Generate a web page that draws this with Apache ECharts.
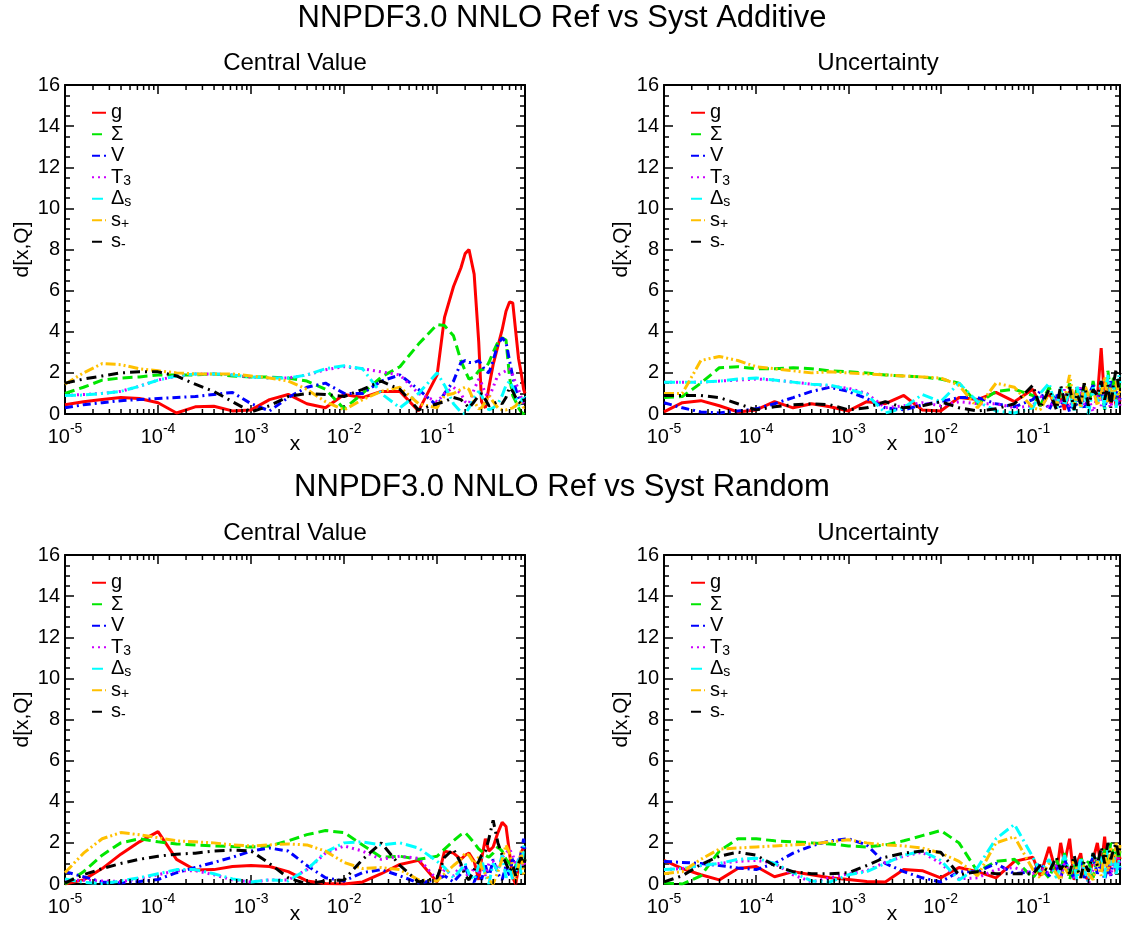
<!DOCTYPE html>
<html><head><meta charset="utf-8">
<script src="https://cdn.jsdelivr.net/npm/echarts@6/dist/echarts.min.js"></script>
<style>html,body{margin:0;padding:0;background:#fff}#c{width:1123px;height:930px}</style>
</head><body><div id="c"></div>
<script>
// ---- data ----
const xs = [1e-5,1.58e-5,2.51e-5,3.98e-5,6.31e-5,1e-4,1.58e-4,2.51e-4,3.98e-4,6.31e-4,1e-3,1.58e-3,2.51e-3,3.98e-3,6.31e-3,0.01,0.0158,0.0251,0.0398,0.0631,0.1,
  0.12,0.15,0.18,0.2,0.22,0.25,0.28,0.3,0.33,0.36,0.4,0.45,0.5,0.55,0.6,0.65,0.7,0.75,0.8,0.85,0.88];
const seriesNames = ['g','Σ','V','T3','Δs','s+','s-'];
const xTickLabels = ['{b|10}{sup|-5}','{b|10}{sup|-4}','{b|10}{sup|-3}','{b|10}{sup|-2}','{b|10}{sup|-1}'];
const yTickLabels = ['0','2','4','6','8','10','12','14','16'];
const mainTitles = ['NNPDF3.0 NNLO Ref vs Syst Additive','NNPDF3.0 NNLO Ref vs Syst Random'];
const panelTitles = ['Central Value','Uncertainty','Central Value','Uncertainty'];

// Additive - central value
const addCv_g  = [0.45,0.6,0.7,0.8,0.75,0.55,0.05,0.35,0.38,0.15,0.2,0.7,0.95,0.5,0.3,0.95,0.8,1.1,1.1,0.15,1.9, 4.7,6.2,7.1,7.8,8.0,6.8,3.5,0.6,0.3,1.3,2.4,3.3,4.1,5.0,5.45,5.4,4.0,2.7,2.0,1.2,1.0];
const addCv_S  = [1.0,1.3,1.65,1.75,1.8,1.9,1.9,1.9,1.95,1.85,1.8,1.8,1.75,1.6,1.2,0.25,1.0,1.8,2.3,3.4,4.35, 4.3,3.8,2.6,2.1,1.7,1.8,2.1,2.15,2.2,2.5,3.0,3.5,3.7,3.6,1.8,0.9,0.6,0.3,0.1,0.0,0.3];
const addCv_V  = [0.3,0.45,0.55,0.65,0.7,0.75,0.8,0.85,0.95,1.05,0.5,0.15,0.8,1.3,1.5,1.0,1.0,1.6,1.9,1.2,0.4, 1.0,1.6,2.5,2.6,2.5,2.5,2.6,2.4,2.1,2.0,2.6,3.4,3.7,3.5,2.6,1.8,1.2,0.8,0.5,0.7,0.9];
const addCv_T3 = [0.9,0.95,1.0,1.1,1.35,1.65,1.85,1.95,1.95,1.9,1.8,1.75,1.75,1.9,2.15,2.3,2.2,2.05,1.9,1.0,0.6, 1.0,1.3,1.0,0.6,0.5,1.2,1.7,1.5,1.0,0.8,1.3,1.9,2.0,2.1,2.2,1.9,1.5,1.2,0.8,0.5,0.6];
const addCv_Ds = [0.9,0.92,1.0,1.1,1.35,1.65,1.85,1.95,1.95,1.9,1.8,1.75,1.75,1.9,2.2,2.35,2.2,1.0,0.3,1.0,2.0, 1.4,0.5,0.1,0.0,0.3,0.8,1.1,0.9,0.5,0.2,0.3,0.5,0.9,1.4,1.6,1.3,0.8,0.4,0.6,0.9,0.8];
const addCv_sp = [1.45,2.0,2.45,2.4,2.2,2.1,2.0,1.95,1.95,1.95,1.85,1.75,1.6,1.2,0.6,0.2,0.7,1.1,1.3,0.5,0.3, 0.9,1.0,1.2,1.3,1.2,0.6,0.25,0.3,0.6,0.9,0.6,0.3,0.2,0.2,0.25,0.3,0.4,0.6,0.5,0.3,0.4];
const addCv_sm = [1.5,1.7,1.85,2.0,2.05,2.05,1.85,1.45,1.1,0.6,0.1,0.4,0.85,1.0,0.95,0.85,1.2,1.6,1.2,0.2,0.5, 0.6,0.8,0.7,0.5,0.3,0.6,0.9,1.0,0.7,0.4,0.5,0.6,0.5,0.8,1.3,1.1,0.8,0.6,0.5,0.7,0.6];
// Additive - uncertainty
const addUn_g  = [0.1,0.55,0.65,0.4,0.1,0.2,0.6,0.3,0.5,0.35,0.15,0.6,0.5,0.9,0.2,0.15,0.8,0.7,1.05,0.6,1.2, 0.4,1.0,0.3,0.9,0.2,1.1,0.5,1.3,0.4,1.0,0.6,1.2,0.8,3.2,0.6,1.4,0.5,1.0,0.4,0.9,0.6];
const addUn_S  = [0.8,0.85,1.5,2.25,2.3,2.2,2.2,2.25,2.2,2.1,2.05,2.0,1.9,1.85,1.8,1.7,1.5,0.5,1.1,1.2,0.9, 0.4,1.3,0.5,1.0,0.6,1.5,0.2,1.2,0.8,1.4,0.3,1.6,0.5,1.3,0.2,2.1,1.0,1.8,0.7,1.5,1.2];
const addUn_V  = [0.55,0.3,0.1,0.05,0.15,0.25,0.5,0.8,1.1,1.3,1.1,0.75,0.3,0.2,0.45,0.6,0.8,0.8,0.5,0.35,0.7, 1.1,0.2,1.0,0.3,0.9,0.1,0.8,0.4,1.2,0.2,0.9,1.4,0.7,1.2,0.3,0.9,1.6,0.6,1.1,0.5,0.8];
const addUn_T3 = [1.55,1.55,1.55,1.6,1.65,1.7,1.65,1.55,1.45,1.35,1.25,1.0,0.3,0.4,0.55,0.4,0.6,0.5,0.5,0.3,0.4, 0.9,0.3,0.8,0.5,1.2,0.3,0.9,0.6,1.3,0.4,0.8,0.1,0.9,0.4,1.1,0.6,0.3,1.0,0.5,0.8,0.4];
const addUn_Ds = [1.55,1.55,1.55,1.6,1.7,1.75,1.65,1.55,1.45,1.4,1.2,0.95,0.05,0.3,0.95,0.6,1.5,0.6,0.15,0.05,0.3, 1.0,1.5,0.2,1.3,0.4,1.1,0.1,1.4,0.3,1.2,0.0,1.3,0.5,1.6,0.2,1.9,0.8,1.4,0.3,1.9,1.5];
const addUn_sp = [1.0,1.0,2.6,2.8,2.6,2.3,2.2,2.1,2.0,2.05,2.0,1.95,1.9,1.85,1.8,1.75,1.4,0.3,1.5,1.3,0.3, 0.2,1.0,0.4,1.1,0.7,1.9,0.5,1.0,0.3,1.5,0.9,1.2,0.4,1.0,1.8,0.5,1.3,0.7,1.6,0.9,1.2];
const addUn_sm = [0.9,0.9,0.9,0.8,0.5,0.2,0.35,0.45,0.5,0.45,0.2,0.3,0.6,0.3,0.4,0.6,0.3,0.15,0.25,0.5,1.4, 0.3,1.2,0.2,1.4,0.6,1.3,0.2,1.0,0.5,1.5,0.4,1.2,0.9,1.6,0.7,1.4,0.3,1.5,2.2,1.3,2.0];
// Random - central value
const rndCv_g  = [0.0,0.2,0.75,1.45,2.05,2.55,1.2,0.68,0.7,0.85,0.9,0.85,0.6,0.15,0.02,0.0,0.1,0.5,0.95,1.15,0.1, 1.6,1.5,1.2,1.4,1.5,1.1,0.2,1.2,2.2,1.6,1.8,2.5,3.0,2.8,1.5,0.3,0.0,0.8,1.5,1.8,1.7];
const rndCv_S  = [0.0,0.6,1.4,2.0,2.2,2.05,1.95,1.9,1.85,1.82,1.8,1.85,2.1,2.4,2.6,2.5,1.9,1.3,1.35,1.2,1.35, 1.7,2.1,2.4,2.5,2.3,2.0,1.7,1.6,1.4,1.3,1.5,1.8,1.6,1.2,1.0,0.8,0.9,1.1,1.3,1.0,1.2];
const rndCv_V  = [0.6,0.35,0.1,0.05,0.12,0.22,0.55,0.8,1.05,1.3,1.6,1.75,1.6,0.9,0.3,0.15,0.55,0.7,0.4,0.05,0.2, 0.4,0.1,0.5,0.9,0.3,0.1,0.6,0.2,0.9,0.3,1.2,0.5,0.2,0.9,0.4,1.3,0.6,0.9,1.5,2.2,1.6];
const rndCv_T3 = [0.2,0.18,0.15,0.12,0.25,0.45,0.65,0.65,0.45,0.2,0.1,0.2,0.2,0.7,1.5,1.85,1.6,1.2,1.35,1.25,0.2, 0.7,0.4,0.9,0.6,0.3,0.8,0.5,0.9,0.4,1.0,1.1,0.7,1.3,1.5,1.7,1.4,1.0,1.2,0.8,1.1,0.9];
const rndCv_Ds = [0.25,0.08,0.02,0.15,0.3,0.5,0.7,0.7,0.5,0.25,0.1,0.2,0.15,0.7,1.55,2.0,2.05,1.9,2.0,1.75,1.1, 0.8,0.3,0.7,1.0,0.5,0.2,0.9,1.3,0.4,0.0,1.0,0.6,1.4,0.3,0.8,0.2,0.6,1.3,0.5,1.8,2.0];
const rndCv_sp = [0.55,1.5,2.2,2.5,2.4,2.25,2.1,2.05,2.0,1.9,1.85,1.9,1.95,1.9,1.6,1.05,0.75,0.8,0.7,0.2,0.15, 0.5,0.9,1.2,1.5,1.4,1.0,1.3,0.8,0.5,0.2,0.0,0.6,1.2,1.9,1.5,0.8,0.2,0.9,1.6,0.5,0.4];
const rndCv_sm = [0.05,0.45,0.75,1.0,1.2,1.35,1.45,1.5,1.6,1.65,1.6,1.0,0.3,0.0,0.15,0.2,1.2,2.0,0.9,0.1,0.3, 1.3,1.7,1.0,0.4,0.2,0.7,1.1,1.4,1.6,2.2,3.1,2.0,1.4,1.0,0.6,0.9,0.4,1.0,1.3,0.8,1.2];
// Random - uncertainty
const rndUn_g  = [1.15,0.75,0.45,0.2,0.75,0.85,0.35,0.6,0.45,0.3,0.22,0.12,0.1,0.7,0.65,0.3,0.8,0.6,0.3,1.1,1.3, 0.4,1.8,0.5,2.0,1.0,2.2,0.2,1.0,1.5,0.4,0.2,1.2,2.0,0.8,2.3,0.5,1.0,1.5,0.5,1.6,1.2];
const rndUn_S  = [0.05,0.0,0.4,1.6,2.2,2.2,2.1,2.05,2.0,1.95,1.85,1.8,1.9,2.1,2.35,2.6,2.0,0.6,1.1,1.2,0.3, 0.8,0.3,1.2,0.6,1.5,0.2,1.0,0.5,1.3,0.8,1.1,0.3,1.4,0.6,1.7,1.1,2.0,1.4,1.8,1.2,1.6];
const rndUn_V  = [1.1,1.05,1.0,0.9,0.78,0.7,1.0,1.5,1.85,2.1,2.2,1.9,1.0,0.6,0.3,0.1,0.6,0.6,1.0,0.5,0.6, 1.0,0.4,0.9,0.2,1.2,0.6,0.3,0.9,1.1,0.3,0.8,1.3,0.5,1.0,0.2,0.9,0.4,1.2,0.6,1.0,0.7];
const rndUn_T3 = [0.7,0.75,0.9,1.0,1.1,1.15,1.0,0.45,0.1,0.3,0.5,0.65,1.05,1.35,1.55,1.0,0.25,0.3,0.7,0.8,0.5, 0.8,0.5,0.9,0.4,1.0,0.6,0.3,0.8,0.5,0.9,0.0,0.7,1.2,0.5,1.4,0.8,0.4,1.1,0.7,1.3,0.9];
const rndUn_Ds = [0.7,0.75,0.9,1.0,1.2,1.25,1.0,0.55,0.15,0.1,0.45,0.6,1.0,1.4,1.6,1.15,0.2,0.8,2.2,2.9,1.3, 0.6,1.2,0.3,0.9,1.4,0.5,1.0,0.2,1.3,0.7,0.1,1.5,0.8,1.6,0.3,1.7,0.9,1.5,0.4,1.2,0.8];
const rndUn_sp = [0.5,0.6,1.2,1.7,1.75,1.8,1.85,1.9,1.95,2.05,2.15,2.0,1.9,1.85,1.75,1.5,1.1,0.4,2.0,2.3,0.7, 0.3,1.0,0.5,0.2,0.8,0.4,1.2,0.6,0.3,0.9,0.5,0.2,1.1,0.4,1.5,0.6,1.8,1.0,2.0,1.4,1.9];
const rndUn_sm = [0.1,0.4,0.95,1.35,1.55,1.4,0.9,0.6,0.5,0.5,0.55,0.9,1.3,1.5,1.6,1.55,0.45,0.6,0.5,0.5,0.5, 0.9,0.6,1.3,0.7,1.0,0.5,1.4,0.8,0.3,1.1,0.6,1.5,0.9,1.8,1.0,2.0,1.2,1.7,2.0,1.4,1.8];

const panelData = [
  [addCv_g, addCv_S, addCv_V, addCv_T3, addCv_Ds, addCv_sp, addCv_sm],
  [addUn_g, addUn_S, addUn_V, addUn_T3, addUn_Ds, addUn_sp, addUn_sm],
  [rndCv_g, rndCv_S, rndCv_V, rndCv_T3, rndCv_Ds, rndCv_sp, rndCv_sm],
  [rndUn_g, rndUn_S, rndUn_V, rndUn_T3, rndUn_Ds, rndUn_sp, rndUn_sm]
];

// ---- styling / layout ----
const FONT = '"Liberation Sans", Arial, Helvetica, sans-serif';
const colors = ['#ff0000','#00e600','#0000ff','#cc00ff','#00ffff','#ffc000','#000000'];
const dashes = ['solid',[10,5],[8,4,2,4],[2,4],[11,4,2,4],[10,3,2,3,2,3],[10,5,2,5]];
const legendLabel = {'g':'g','Σ':'Σ','V':'V','T3':'T{sub|3}','Δs':'Δ{sub|s}','s+':'s{sub|+}','s-':'s{sub|-}'};
const pos = [{l:65,t:85},{l:664,t:85},{l:65,t:555},{l:664,t:555}];
const GW = 460, GH = 329;

function xFmt(v){
  const e = Math.log10(v), r = Math.round(e);
  if (Math.abs(e - r) > 1e-6) return '';
  return xTickLabels[r + 5] || '';
}
function yFmt(v){ return yTickLabels[Math.round(v / 2)] || ''; }

const minorX = [];
for (let d = -5; d < 0; d++) for (let m = 2; m <= 9; m++) { const v = m * Math.pow(10, d); if (v < 0.88) minorX.push(v); }

const grid = [], xAxis = [], yAxis = [], series = [], legend = [], graphic = [];
pos.forEach((p, i) => {
  grid.push({left:p.l, top:p.t, width:GW, height:GH, show:false});
  [false, true].forEach(top => {
    xAxis.push({
      type:'log', logBase:10, gridIndex:i, min:1e-5, max:0.88, position: top ? 'top' : 'bottom',
      axisLine:{show:true, onZero:false, lineStyle:{color:'#000', width:2}},
      axisTick:{show:true, inside:true, length:9, lineStyle:{color:'#000', width:1.5}},
      minorTick:{show:false}, splitLine:{show:false},
      axisLabel:{show:!top, margin:8, color:'#000', fontFamily:FONT, formatter:xFmt,
        rich:{
          b:{fontSize:20, lineHeight:30, fontFamily:FONT, color:'#000'},
          sup:{fontSize:14, lineHeight:6, fontFamily:FONT, color:'#000', verticalAlign:'top'}
        }},
      name: top ? '' : 'x', nameLocation:'middle', nameGap:20, nameMoveOverlap:false,
      nameTextStyle:{fontSize:21, color:'#000', fontFamily:FONT}
    });
    yAxis.push({
      type:'value', gridIndex:i, min:0, max:16, interval:2, position: top ? 'right' : 'left',
      axisLine:{show:true, lineStyle:{color:'#000', width:2}},
      axisTick:{show:true, inside:true, length:9, lineStyle:{color:'#000', width:1.5}},
      minorTick:{show:true, splitNumber:4, length:5, lineStyle:{color:'#000', width:1.5}},
      splitLine:{show:false}, minorSplitLine:{show:false},
      axisLabel:{show:!top, color:'#000', fontSize:20, fontFamily:FONT, margin:5, formatter:yFmt},
      name: top ? '' : 'd[x,Q]', nameLocation:'middle', nameGap:32, nameRotate:90, nameMoveOverlap:false,
      nameTextStyle:{fontSize:21, color:'#000', fontFamily:FONT}
    });
  });
  const xi = 2 * i, yi = 2 * i;
  seriesNames.forEach((nm, k) => {
    series.push({
      type:'line', name:nm, xAxisIndex:xi, yAxisIndex:yi,
      data: xs.map((x, j) => [x, panelData[i][k][j]]),
      symbol:'none', showSymbol:false, clip:true, animation:false,
      lineStyle:{color:colors[k], width:3, type:dashes[k]},
      itemStyle:{color:colors[k]}
    });
  });
  series.push({
    type:'custom', xAxisIndex:xi, yAxisIndex:yi, silent:true, clip:false, animation:false, z:5,
    data: minorX.map(v => [v, 0]),
    renderItem: (params, api) => {
      const px = api.coord([api.value(0), 0])[0];
      const cs = params.coordSys;
      const st = {stroke:'#000', lineWidth:1.5};
      return {type:'group', children:[
        {type:'line', shape:{x1:px, y1:cs.y + cs.height, x2:px, y2:cs.y + cs.height - 5}, style:st},
        {type:'line', shape:{x1:px, y1:cs.y, x2:px, y2:cs.y + 5}, style:st}
      ]};
    }
  });
  legend.push({
    orient:'vertical', left:p.l + 26, top:p.t + 17, padding:0, itemGap:0,
    itemWidth:14, itemHeight:6, selectedMode:false,
    itemStyle:{color:'rgba(0,0,0,0)', borderWidth:0, borderColor:'rgba(0,0,0,0)'},
    data: seriesNames,
    formatter: nm => legendLabel[nm],
    textStyle:{color:'#000', fontSize:20, fontFamily:FONT, lineHeight:21.5,
      rich:{sub:{fontSize:14, lineHeight:3, fontFamily:FONT, color:'#000', verticalAlign:'bottom'}}}
  });
  graphic.push({type:'text', x: i % 2 === 0 ? 295 : 878, y: p.t - 22, silent:true,
    style:{text:panelTitles[i], fontSize:24, fontFamily:FONT, fill:'#000', align:'center', verticalAlign:'middle', textAlign:'center', textVerticalAlign:'middle'}});
});
graphic.push({type:'text', x:562, y:18, silent:true,
  style:{text:mainTitles[0], fontSize:31, fontFamily:FONT, fill:'#000', align:'center', verticalAlign:'middle', textAlign:'center', textVerticalAlign:'middle'}});
graphic.push({type:'text', x:562, y:487, silent:true,
  style:{text:mainTitles[1], fontSize:31, fontFamily:FONT, fill:'#000', align:'center', verticalAlign:'middle', textAlign:'center', textVerticalAlign:'middle'}});

const chart = echarts.init(document.getElementById('c'), null, {renderer:'canvas'});
chart.setOption({animation:false, backgroundColor:'#fff', grid, xAxis, yAxis, series, legend, graphic});
</script>
</body></html>
